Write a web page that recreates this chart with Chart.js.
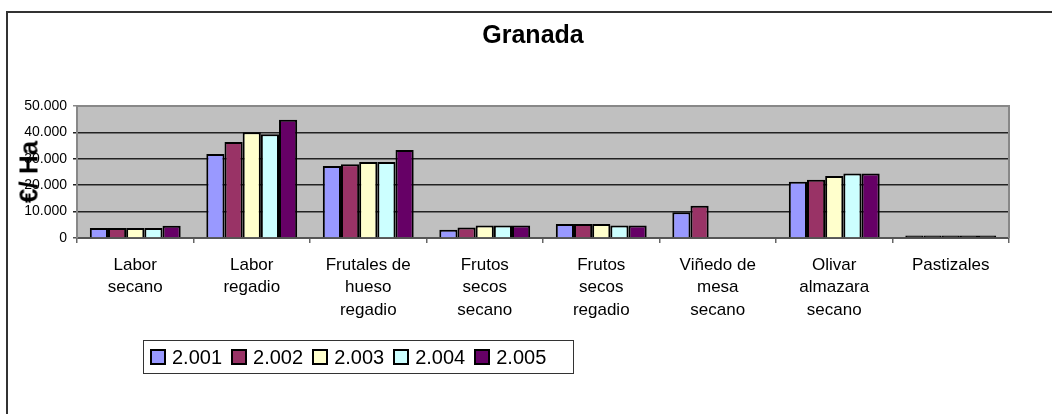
<!DOCTYPE html>
<html>
<head>
<meta charset="utf-8">
<script src="https://cdn.jsdelivr.net/npm/chart.js@4"></script>
<style>
  html, body { margin: 0; padding: 0; background: #fff; overflow: hidden; }
  body { width: 1052px; height: 414px; position: relative; font-family: "Liberation Sans", Arial, sans-serif; }
  .frame { position: absolute; left: 6px; top: 11px; width: 1200px; height: 600px; border: 2px solid #333; box-sizing: border-box; }
  .wrap { position: absolute; left: 0; top: 0; width: 1052px; height: 414px; }
  .title { position: absolute; left: 433px; width: 200px; top: 20px; text-align: center; font-weight: bold; font-size: 25px; color: #000; }
  .ytitle { position: absolute; left: 29px; top: 172px; transform: translate(-50%, -50%) rotate(-90deg); font-weight: bold; font-size: 26px; white-space: nowrap; color: #000; }
  .legend { position: absolute; left: 143px; top: 340px; width: 431px; height: 34px; border: 1px solid #333; box-sizing: border-box; display: flex; align-items: center; padding-left: 6px; }
  .legend span.item { display: inline-flex; align-items: center; margin-right: 9px; font-size: 20px; }
  .legend i { display: inline-block; width: 12px; height: 12px; border: 2px solid #000; margin-right: 6px; }
</style>
</head>
<body>
<div class="frame"></div>
<div class="wrap"><canvas id="myChart" width="1052" height="414"></canvas></div>
<div class="title">Granada</div>
<div class="ytitle">€/ Ha</div>
<div class="legend" id="legend"></div>
<script>
/* data */
const categories = [
  ['Labor', 'secano'],
  ['Labor', 'regadio'],
  ['Frutales de', 'hueso', 'regadio'],
  ['Frutos', 'secos', 'secano'],
  ['Frutos', 'secos', 'regadio'],
  ['Viñedo de', 'mesa', 'secano'],
  ['Olivar', 'almazara', 'secano'],
  ['Pastizales'],
];
const seriesNames = ['2.001', '2.002', '2.003', '2.004', '2.005'];
const v2001 = [3800, 31800, 27300, 3100, 5300, 9800, 21300, 900];
const v2002 = [3800, 36400, 27900, 4000, 5300, 12200, 22100, 900];
const v2003 = [3800, 40100, 28800, 4700, 5300, null, 23500, 900];
const v2004 = [3800, 39300, 28800, 4700, 4700, null, 24400, 900];
const v2005 = [4600, 44800, 33300, 4700, 4700, null, 24400, 900];
const yTicks = [0, 10000, 20000, 30000, 40000, 50000];

const colors = ['#9999ff', '#993366', '#ffffcc', '#ccffff', '#660066'];
const values = [v2001, v2002, v2003, v2004, v2005];

const fmt = (n) => String(n).replace(/\B(?=(\d{3})+(?!\d))/g, '.');

/* legend */
const legend = document.getElementById('legend');
seriesNames.forEach((name, i) => {
  const item = document.createElement('span');
  item.className = 'item';
  item.innerHTML = `<i style="background:${colors[i]}"></i>${name}`;
  legend.append(item);
});

/* plot background + border */
const plotBg = {
  id: 'plotBg',
  beforeDraw(chart) {
    const { ctx, chartArea } = chart;
    ctx.save();
    ctx.fillStyle = '#c0c0c0';
    ctx.fillRect(chartArea.left, chartArea.top, chartArea.right - chartArea.left, chartArea.bottom - chartArea.top);
    ctx.restore();
  },
  afterDatasetsDraw(chart) {
    const { ctx, chartArea } = chart;
    ctx.save();
    ctx.strokeStyle = '#888';
    ctx.lineWidth = 2;
    ctx.beginPath();
    ctx.moveTo(chartArea.left, chartArea.top);
    ctx.lineTo(chartArea.right, chartArea.top);
    ctx.lineTo(chartArea.right, chartArea.bottom);
    ctx.stroke();
    ctx.restore();
  },
};

Chart.defaults.font.family = '"Liberation Sans", Arial, sans-serif';
Chart.defaults.color = '#000';

const chart = new Chart(document.getElementById('myChart'), {
  type: 'bar',
  data: {
    labels: categories,
    datasets: seriesNames.map((name, i) => ({
      label: name,
      data: values[i],
      // very short bars are all border in the original, so they read as black
      backgroundColor: (c) => (c.raw != null && c.raw < 1500 ? '#000' : colors[i]),
      borderColor: '#000',
      borderWidth: 2,
      barPercentage: 1,
      categoryPercentage: 0.78,
    })),
  },
  plugins: [plotBg],
  options: {
    responsive: false,
    animation: false,
    layout: { padding: { left: 0, top: 106, right: 43, bottom: 76 } },
    plugins: {
      legend: { display: false },
      title: { display: false },
      tooltip: { enabled: false },
    },
    scales: {
      x: {
        afterFit: (scale) => { scale.height = 100; },
        grid: {
          drawOnChartArea: false,
          drawTicks: true,
          tickLength: 5,
          color: '#666',
          lineWidth: 1.5,
          offset: true,
        },
        border: { color: '#555', width: 2 },
        ticks: {
          font: { size: 17, lineHeight: 1.32 },
          maxRotation: 0,
          autoSkip: false,
          padding: 11,
        },
      },
      y: {
        min: 0,
        max: 50000,
        afterFit: (scale) => { scale.width = 77; },
        afterBuildTicks: (scale) => { scale.ticks = yTicks.map((v) => ({ value: v })); },
        grid: {
          color: (c) => (c.tick && c.tick.value === 0 ? '#555' : c.tick && c.tick.value === 50000 ? '#888' : '#222'),
          lineWidth: 1.5,
          tickLength: 4,
        },
        border: { color: '#888', width: 2 },
        ticks: {
          font: { size: 14 },
          padding: 6,
          callback: (v) => fmt(v),
        },
      },
    },
  },
});
</script>
</body>
</html>
